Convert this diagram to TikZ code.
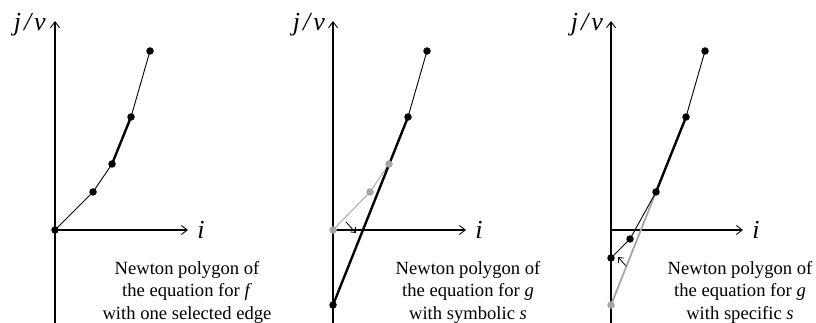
\documentclass[tikz,border=0pt]{standalone}
\usepackage{fontspec}
\setmainfont{Liberation Serif}
\usetikzlibrary{arrows.meta}
\definecolor{lgray}{RGB}{165,165,165}
\tikzset{
  axis/.style={line width=2.4pt,-{Straight Barb[length=6pt,width=9pt,line width=0.9pt]}},
  thinedge/.style={line width=0.9pt},
  thickedge/.style={line width=2.4pt},
  dot/.style={circle,fill=black,inner sep=0pt,minimum size=7.5pt},
  gdot/.style={circle,fill=lgray,inner sep=0pt,minimum size=7.5pt},
  smallarrow/.style={line width=0.8pt,-{Straight Barb[length=4pt,width=7pt,line width=0.8pt]}},
  axlabel/.style={font=\fontsize{26}{26}\selectfont\itshape,inner sep=0pt},
  caption/.style={font=\fontsize{18.6}{22.5}\selectfont,align=center,inner sep=0pt}
}
\begin{document}
\begin{tikzpicture}[x=1pt,y=-1pt]
\useasboundingbox (0,0) rectangle (816,323);
% ---------- Panel 1 ----------
\coordinate (o1) at (55,230);
\coordinate (b1) at (55,323);
\coordinate (t1) at (55,21);
\coordinate (r1) at (188,230);
\draw[axis] (b1) -- (t1);
\draw[axis] (o1) -- (r1);
\node[axlabel,anchor=base east] (jv1) at (46,31) {j\kern3pt/\kern3pt v};
\node[axlabel,anchor=base] (i1) at (201,238) {i};
\coordinate (p11) at (55,230);
\coordinate (p12) at (93,192);
\coordinate (p13) at (112,164);
\coordinate (p14) at (131,117);
\coordinate (p15) at (150,51);
\draw[thinedge] (p11) -- (p12) -- (p13);
\draw[thickedge] (p13) -- (p14);
\draw[thinedge] (p14) -- (p15);
\foreach \p in {p11,p12,p13,p14,p15} \node[dot] at (\p) {};
\node[caption] (c1) at (187,292) {Newton polygon of\\the equation for \textit{f}\\with one selected edge};
% ---------- Panel 2 ----------
\coordinate (b2) at (333,323);
\coordinate (t2) at (333,21);
\coordinate (o2) at (333,230);
\coordinate (r2) at (466,230);
\draw[axis] (b2) -- (t2);
\draw[axis] (o2) -- (r2);
\node[axlabel,anchor=base east] (jv2) at (325,31) {j\kern3pt/\kern3pt v};
\node[axlabel,anchor=base] (i2) at (479,238) {i};
\coordinate (p21) at (333,230);
\coordinate (p22) at (370,192);
\coordinate (p23) at (389,164);
\coordinate (p24) at (408,117);
\coordinate (p25) at (427,51);
\coordinate (p20) at (333,305);
\draw[thinedge,lgray] (p21) -- (p22) -- (p23);
\draw[thickedge] (p20) -- (p24);
\draw[thinedge] (p24) -- (p25);
\foreach \p in {p21,p22,p23} \node[gdot] at (\p) {};
\foreach \p in {p20,p24,p25} \node[dot] at (\p) {};
\coordinate (a2s) at (346,222);
\coordinate (a2e) at (356,233);
\draw[smallarrow] (a2s) -- (a2e);
\node[caption] (c2) at (468,292) {Newton polygon of\\the equation for \textit{g}\\with symbolic \textit{s}};
% ---------- Panel 3 ----------
\coordinate (b3) at (611,323);
\coordinate (t3) at (611,21);
\coordinate (o3) at (611,230);
\coordinate (r3) at (743,230);
\draw[axis] (b3) -- (t3);
\draw[axis] (o3) -- (r3);
\node[axlabel,anchor=base east] (jv3) at (603,31) {j\kern3pt/\kern3pt v};
\node[axlabel,anchor=base] (i3) at (756,238) {i};
\coordinate (p31) at (611,258);
\coordinate (p32) at (630,239);
\coordinate (p33) at (656,192);
\coordinate (p34) at (686,117);
\coordinate (p35) at (705,51);
\coordinate (p30) at (611,305);
\draw[thickedge,lgray,line width=1.8pt] (p30) -- (p33);
\draw[thinedge] (p31) -- (p32) -- (p33);
\draw[thickedge] (p33) -- (p34);
\draw[thinedge] (p34) -- (p35);
\node[gdot] at (p30) {};
\foreach \p in {p31,p32,p33,p34,p35} \node[dot] at (\p) {};
\coordinate (a3s) at (626,266);
\coordinate (a3e) at (618,257);
\draw[smallarrow] (a3s) -- (a3e);
\node[caption] (c3) at (740,292) {Newton polygon of\\the equation for \textit{g}\\with specific \textit{s}};
\end{tikzpicture}
\end{document}
